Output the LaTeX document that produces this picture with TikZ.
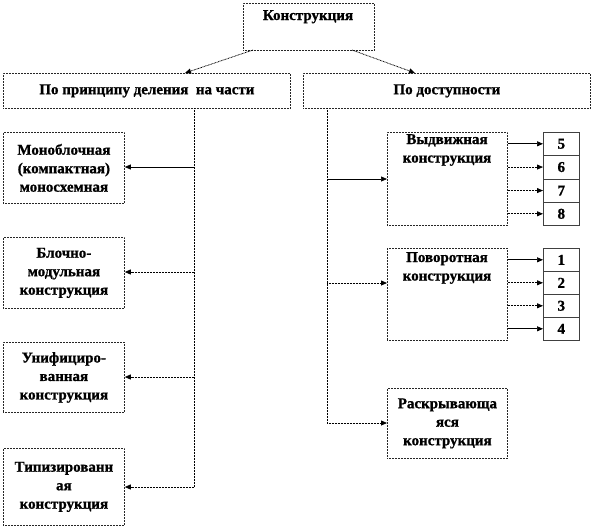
\documentclass[tikz,border=0pt]{standalone}
\usepackage{fontspec}
\setmainfont{Liberation Serif}[BoldFeatures={FakeBold=1}]
\usetikzlibrary{arrows.meta}
\begin{document}
\begin{tikzpicture}[x=1pt,y=-1pt,
  font=\fontsize{15}{18.5}\selectfont\bfseries,
  dotln/.style={line width=0.8pt,dash pattern=on 0.8pt off 0.7pt},
  solidln/.style={line width=0.7pt},
  box/.style={draw=black!85,dotln,inner sep=0pt,anchor=north west,align=center},
  cell/.style={draw=black!75,line width=0.6pt,inner sep=0pt,anchor=north west,minimum width=36pt,minimum height=23pt},
  lbl/.style={inner sep=0pt,align=center,anchor=north},
  arr/.style={-{Triangle[length=6pt,width=5pt]}}]
\useasboundingbox (0,0) rectangle (594,528);
% top
\node[box,minimum width=131pt,minimum height=47pt] (top) at (243,3) {};
\node[lbl] (topt) at (308,10) {Конструкция};
\node[box,minimum width=287pt,minimum height=35pt] (A) at (3,73) {По принципу деления\ \ на части};
\node[box,minimum width=287pt,minimum height=35pt] (B) at (303,73) {По доступности};
\coordinate (t1) at (253,50);
\coordinate (t2) at (352,50);
\coordinate (a1) at (185,73);
\coordinate (b1) at (415,73);
\draw[dotln,arr] (t1) -- (a1);
\draw[dotln,arr] (t2) -- (b1);
% left boxes
\node[box,minimum width=121pt,minimum height=71pt] (L1) at (3,132) {Моноблочная\\(компактная)\\моносхемная};
\node[box,minimum width=121pt,minimum height=71pt] (L2) at (3,237) {Блочно-\\модульная\\конструкция};
\node[box,minimum width=121pt,minimum height=70pt] (L3) at (3,342) {Унифициро-\\ванная\\конструкция};
\node[box,minimum width=121pt,minimum height=77pt] (L4) at (3,448) {Типизированн\\ая\\конструкция};
\coordinate (v0) at (194,108);
\coordinate (v1) at (194,167);
\coordinate (v2) at (194,272);
\coordinate (v3) at (194,377);
\coordinate (v4) at (194,487);
\draw[dotln] (v0) -- (v4);
\draw[solidln,arr] (v1) -- (v1 -| L1.east);
\draw[dotln,arr] (v2) -- (v2 -| L2.east);
\draw[dotln,arr] (v3) -- (v3 -| L3.east);
\draw[dotln,arr] (v4) -- (v4 -| L4.east);
% right boxes
\node[box,minimum width=120pt,minimum height=93pt] (R1) at (387,132) {};
\node[lbl] (R1t) at (447,134) {Выдвижная\\конструкция};
\node[box,minimum width=120pt,minimum height=92pt] (R2) at (387,248) {};
\node[lbl] (R2t) at (447,252) {Поворотная\\конструкция};
\node[box,minimum width=120pt,minimum height=70pt] (R3) at (387,388) {Раскрывающа\\яся\\конструкция};
\coordinate (w0) at (327,108);
\coordinate (w1) at (327,179);
\coordinate (w2) at (327,283);
\coordinate (w3) at (327,423);
\draw[dotln] (w0) -- (w3);
\draw[solidln,arr] (w1) -- (w1 -| R1.west);
\draw[dotln,arr] (w2) -- (w2 -| R2.west);
\draw[dotln,arr] (w3) -- (w3 -| R3.west);
% number cells
\node[cell] (n5) at (543,132) {5};
\node[cell,minimum height=23.5pt] (n6) at (543,155) {6};
\node[cell,minimum height=23.5pt] (n7) at (543,178.5) {7};
\node[cell] (n8) at (543,202) {8};
\node[cell] (n1) at (543,248) {1};
\node[cell] (n2) at (543,271) {2};
\node[cell] (n3) at (543,294) {3};
\node[cell] (n4) at (543,317) {4};
\draw[solidln,arr] (R1.east |- n5) -- (n5.west);
\draw[dotln,arr] (R1.east |- n6) -- (n6.west);
\draw[dotln,arr] (R1.east |- n7) -- (n7.west);
\draw[dotln,arr] (R1.east |- n8) -- (n8.west);
\draw[solidln,arr] (R2.east |- n1) -- (n1.west);
\draw[dotln,arr] (R2.east |- n2) -- (n2.west);
\draw[dotln,arr] (R2.east |- n3) -- (n3.west);
\draw[solidln,arr] (R2.east |- n4) -- (n4.west);
\end{tikzpicture}
\end{document}
